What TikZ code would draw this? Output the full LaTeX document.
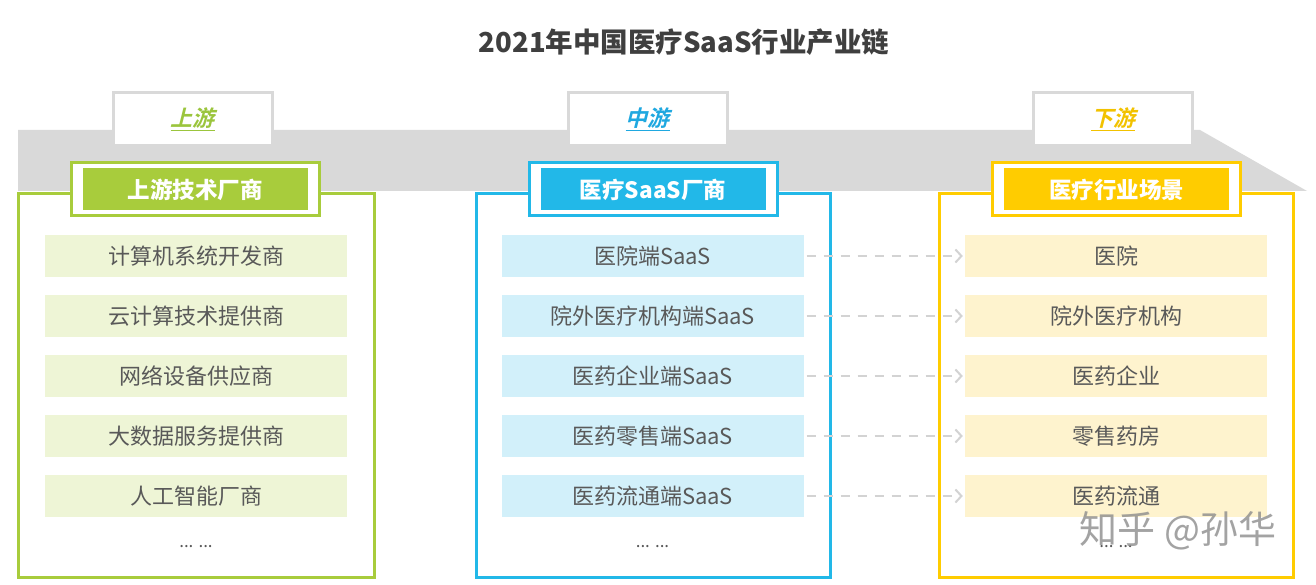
\documentclass[tikz,border=0pt]{standalone}
\usepackage{fontspec}
\setmainfont{Noto Sans CJK SC}
\newfontfamily\tabfont{Noto Sans CJK SC Bold}[FakeSlant=0.25]
\usetikzlibrary{arrows.meta}
\definecolor{cgreen}{HTML}{A8CC3C}
\definecolor{cblue}{HTML}{22B8E8}
\definecolor{cyellow}{HTML}{FFCC00}
\definecolor{tgreen}{HTML}{9BC53D}
\definecolor{tblue}{HTML}{1FA8E0}
\definecolor{tyellow}{HTML}{F2C200}
\definecolor{lgreen}{HTML}{EEF5D6}
\definecolor{lblue}{HTML}{D2F0FA}
\definecolor{lyellow}{HTML}{FEF3CE}
\definecolor{bandgray}{HTML}{D9D9D9}
\definecolor{txt}{HTML}{595959}
\definecolor{ttl}{HTML}{3F3F3F}
\definecolor{arrgray}{HTML}{D3D3D3}
\tikzset{
  tabbox/.style={draw=bandgray, line width=3pt, fill=white, minimum width=159pt, minimum height=53pt, inner sep=0pt},
  tabtext/.style={font=\fontsize{22}{22}\tabfont},
  colbox/.style={line width=3pt, fill=white},
  headout/.style={draw=#1, line width=3pt, fill=white, minimum width=248pt, minimum height=53pt, inner sep=0pt},
  headin/.style={fill=#1, minimum width=225pt, minimum height=42pt, inner sep=0pt, text=white, font=\fontsize{22.5}{22.5}\selectfont\bfseries},
  itembox/.style={fill=#1, minimum width=302pt, minimum height=42pt, inner sep=0pt, text=txt, font=\fontsize{22}{22}\selectfont},
  dots/.style={text=txt, font=\fontsize{17}{17}\selectfont},
  flow/.style={draw=arrgray, line width=2.5pt, dash pattern=on 9pt off 8pt, -{Straight Barb[length=6pt,width=13pt,line width=2pt]}}
}
\begin{document}
\begin{tikzpicture}[x=1pt,y=-1pt]
\useasboundingbox[fill=white] (0,0) rectangle (1316,585);
% title
\node[font=\fontsize{27.5}{27.5}\selectfont\bfseries, text=ttl] (title) at (684,42) {2021年中国医疗SaaS行业产业链};
% band
\fill[bandgray] (18,130) -- (1200,130) -- (1307,191) -- (18,191) -- cycle;
% tabs
\node[tabbox] (tabL) at (192.5,119.5) {};
\node[tabtext, text=tgreen] (tabLt) at (tabL) {\underline{上游}};
\node[tabbox] (tabM) at (647.5,119.5) {};
\node[tabtext, text=tblue] (tabMt) at (tabM) {\underline{中游}};
\node[tabbox] (tabR) at (1113,119.5) {};
\node[tabtext, text=tyellow] (tabRt) at (tabR) {\underline{下游}};
% column boxes
\draw[colbox, draw=cgreen] (18,194) rectangle (374,577);
\draw[colbox, draw=cblue] (476,194) rectangle (830,577);
\draw[colbox, draw=cyellow] (939,194) rectangle (1293,577);
% headers
\node[headout=cgreen] (hL) at (195,189.5) {};
\node[headin=cgreen] (hLi) at (hL) {上游技术厂商};
\node[headout=cblue] (hM) at (653,189.5) {};
\node[headin=cblue] (hMi) at (hM) {医疗SaaS厂商};
\node[headout=cyellow] (hR) at (1116.5,189.5) {};
\node[headin=cyellow] (hRi) at (hR) {医疗行业场景};
% left items
\node[itembox=lgreen] (l1) at (196,256) {计算机系统开发商};
\node[itembox=lgreen] (l2) at (196,316) {云计算技术提供商};
\node[itembox=lgreen] (l3) at (196,376) {网络设备供应商};
\node[itembox=lgreen] (l4) at (196,436) {大数据服务提供商};
\node[itembox=lgreen] (l5) at (196,496) {人工智能厂商};
\node[dots] (lD) at (196,547) {... ...};
% middle items
\node[itembox=lblue] (m1) at (652.5,256) {医院端SaaS};
\node[itembox=lblue] (m2) at (652.5,316) {院外医疗机构端SaaS};
\node[itembox=lblue] (m3) at (652.5,376) {医药企业端SaaS};
\node[itembox=lblue] (m4) at (652.5,436) {医药零售端SaaS};
\node[itembox=lblue] (m5) at (652.5,496) {医药流通端SaaS};
\node[dots] (mD) at (652.5,547) {... ...};
% right items
\node[itembox=lyellow] (r1) at (1116,256) {医院};
\node[itembox=lyellow] (r2) at (1116,316) {院外医疗机构};
\node[itembox=lyellow] (r3) at (1116,376) {医药企业};
\node[itembox=lyellow] (r4) at (1116,436) {零售药房};
\node[itembox=lyellow] (r5) at (1116,496) {医药流通};
\node[dots] (rD) at (1116,547) {... ...};
% arrows
\foreach \i in {1,...,5}{
  \draw[flow, shorten <=3pt, shorten >=2pt] (m\i.east) -- (r\i.west);
}
% watermark
\node[text=black!45, opacity=0.8, font=\fontsize{38}{38}\selectfont] (wm) at (1178,531) {知乎 @孙华};
\end{tikzpicture}
\end{document}
